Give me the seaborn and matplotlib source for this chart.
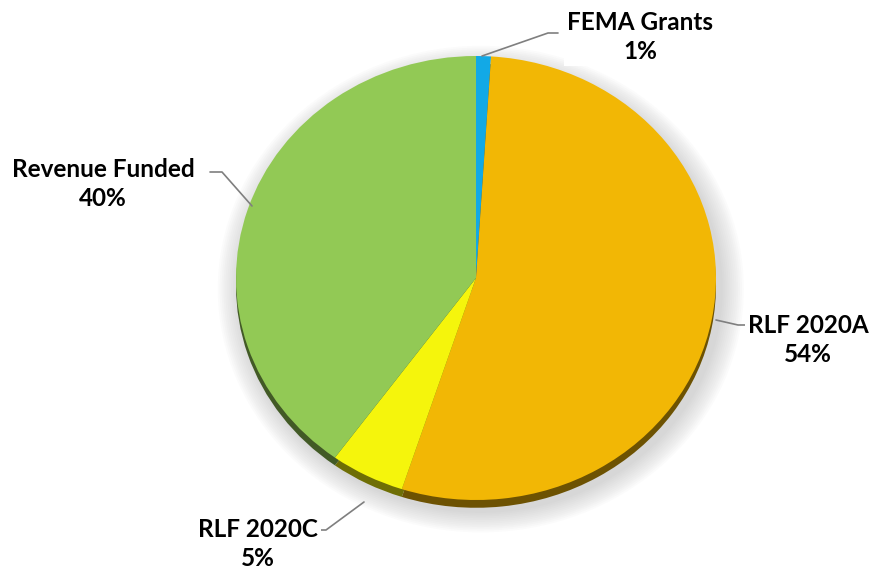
import matplotlib
matplotlib.use("Agg")
import matplotlib.pyplot as plt
import seaborn as sns
import numpy as np
from matplotlib.patches import Ellipse
import matplotlib.colors as mcolors

sns.set_theme(style="white")
plt.rcParams["font.family"] = ["Lato", "DejaVu Sans"]

# Funding sources (percent of total)
sources = ["FEMA Grants", "RLF 2020A", "RLF 2020C", "Revenue Funded"]
shares = [1, 54, 5, 40]
colors = ["#12A9E6", "#F2B705", "#F5F50C", "#92C955"]

W, H = 876, 573
CX, CY, RX, RY = 476, 278, 240, 222  # pie centre / radii in pixels

fig = plt.figure(figsize=(W / 100, H / 100), dpi=100)
ax = fig.add_axes([0, 0, 1, 1])

# soft shadow under the pie
for i in range(12):
    grow = 1 + 0.008 * (12 - i)
    ax.add_patch(Ellipse((0.02, -0.05), 2 * grow, 2 * grow,
                         color="#9a9a9a", alpha=0.035, lw=0, zorder=0))

# dark rim that gives the pie its thickness
dark = [tuple(np.array(mcolors.to_rgb(c)) * 0.45) for c in colors]
ax.pie(shares, colors=dark, startangle=90, counterclock=False,
       radius=1.0, center=(0, -0.035),
       wedgeprops=dict(linewidth=0, zorder=1))

# pie face
wedges, _ = ax.pie(shares, colors=colors, startangle=90, counterclock=False,
                   radius=1.0, center=(0, 0),
                   wedgeprops=dict(linewidth=0))
for w in wedges:
    w.set_zorder(2)

ax.set_aspect("auto")
ax.set_xlim(-CX / RX, (W - CX) / RX)
ax.set_ylim((CY - H) / RY, CY / RY)
ax.axis("off")


def fx(px):
    return px / W


def fy(py):
    return 1 - py / H


# label text position and leader line path (pixels) per source
label_pos = {
    "FEMA Grants": (640, 37),
    "RLF 2020A": (808, 340),
    "RLF 2020C": (258, 544),
    "Revenue Funded": (103, 184),
}
leaders = {
    "FEMA Grants": [(482, 56), (548, 33), (558, 33)],
    "RLF 2020A": [(716, 320), (738, 325), (750, 325)],
    "RLF 2020C": [(364, 502), (326, 530), (314, 530)],
    "Revenue Funded": [(252, 206), (222, 172), (210, 172)],
}

for name, val in zip(sources, shares):
    pts = leaders[name]
    fig.add_artist(plt.Line2D([fx(p[0]) for p in pts], [fy(p[1]) for p in pts],
                              color="#7f7f7f", lw=1.2, zorder=5))
    x, y = label_pos[name]
    fig.text(fx(x), fy(y), f"{name}\n{val}%", ha="center", va="center",
             fontsize=17.5, fontweight="bold", color="black", linespacing=1.3,
             bbox=dict(facecolor="white", edgecolor="none", pad=2), zorder=6)

fig.savefig("out.png", dpi=100, facecolor="white")
